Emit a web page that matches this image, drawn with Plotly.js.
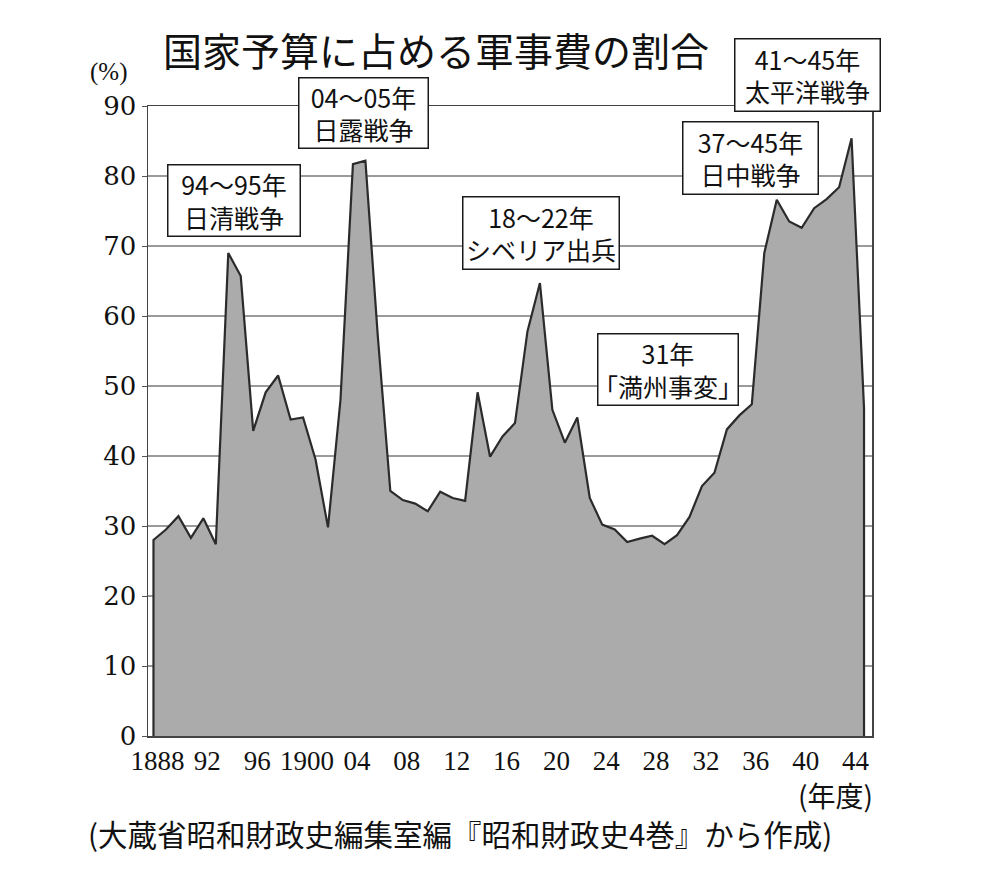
<!DOCTYPE html>
<html>
<head>
<meta charset="utf-8">
<script src="https://cdn.plot.ly/plotly-3.0.1.min.js"></script>
<style>
html,body{margin:0;padding:0;background:#ffffff;}
#chart{width:999px;height:873px;}
</style>
</head>
<body>
<div id="chart"></div>
<script>
// ---- data ----
const years = [1888,1889,1890,1891,1892,1893,1894,1895,1896,1897,1898,1899,
  1900,1901,1902,1903,1904,1905,1906,1907,1908,1909,1910,1911,1912,1913,1914,
  1915,1916,1917,1918,1919,1920,1921,1922,1923,1924,1925,1926,1927,1928,1929,
  1930,1931,1932,1933,1934,1935,1936,1937,1938,1939,1940,1941,1942,1943,1944,1945];
const militaryShare = [28.0,29.5,31.4,28.3,31.1,27.4,69.0,65.7,43.6,49.1,51.5,45.2,
  45.5,39.5,29.8,48.0,81.7,82.2,57.0,35.0,33.7,33.2,32.1,34.9,34.0,33.6,49.1,
  39.9,42.8,44.7,57.8,64.7,46.6,41.9,45.5,34.0,30.2,29.5,27.7,28.2,28.6,27.4,
  28.7,31.3,35.7,37.6,43.8,45.8,47.4,69.0,76.6,73.5,72.6,75.4,76.7,78.4,85.4,46.9];
const tickYears = [1888,1892,1896,1900,1904,1908,1912,1916,1920,1924,1928,1932,1936,1940,1944];
const tickLabels = ["1888","92","96","1900","04","08","12","16","20","24","28","32","36","40","44"];
const yTicks = [0,10,20,30,40,50,60,70,80,90];

const titleText = "国家予算に占める軍事費の割合";
const eventLabels = [
  "94～95年<br>日清戦争",
  "04～05年<br>日露戦争",
  "18～22年<br>シベリア出兵",
  "31年<br>「満州事変」",
  "37～45年<br>日中戦争",
  "41～45年<br>太平洋戦争"
];
const unitLabel = "(%)";
const xUnitLabel = "(年度)";
const sourceText = "(大蔵省昭和財政史編集室編『昭和財政史4巻』から作成)";

// ---- layout helpers (pixels -> paper) ----
const W = 999, H = 873;
const M = {l:148, r:127, t:106, b:137};
const PW = W - M.l - M.r, PH = H - M.t - M.b;
const px = x => (x - M.l) / PW;
const py = y => (H - M.b - y) / PH;

// closed outline polygon built from the data
const polyX = [years[0]].concat(years, [years[years.length-1]]);
const polyY = [0].concat(militaryShare, [0]);

const trace = {
  type: 'scatter',
  mode: 'lines',
  x: polyX,
  y: polyY,
  fill: 'toself',
  fillcolor: '#ababab',
  line: {color: '#2b2b2b', width: 2.2, shape: 'linear'},
  hoverinfo: 'x+y',
  showlegend: false
};

const jp = '"Noto Sans CJK JP", "Noto Sans CJK SC", sans-serif';

// boxes: [centerX, centerY, width, height] in pixels
const boxes = [
  [234, 200, 134, 73],
  [363, 113, 131, 72],
  [541, 233, 158, 74],
  [668, 369, 142, 73],
  [750, 158, 137, 74],
  [807, 75, 147, 74]
];

const annotations = eventLabels.map((t, i) => ({
  text: t,
  xref: 'paper', yref: 'paper',
  x: px(boxes[i][0]), y: py(boxes[i][1]),
  xanchor: 'center', yanchor: 'middle',
  showarrow: false,
  width: boxes[i][2] - 5, height: boxes[i][3] - 5,
  bgcolor: '#ffffff',
  bordercolor: '#1a1a1a', borderwidth: 1.5, borderpad: 1,
  font: {family: jp, size: 25, color: '#111111'},
  align: 'center', valign: 'middle'
}));

annotations.push({
  text: unitLabel, xref: 'paper', yref: 'paper',
  x: px(108), y: py(72), xanchor: 'center', yanchor: 'middle',
  showarrow: false, font: {family: '"Liberation Serif", serif', size: 25, color: '#111'}
});
annotations.push({
  text: xUnitLabel, xref: 'paper', yref: 'paper',
  x: px(835), y: py(795), xanchor: 'center', yanchor: 'middle',
  showarrow: false, font: {family: jp, size: 28, color: '#111'}
});
annotations.push({
  text: sourceText, xref: 'paper', yref: 'paper',
  x: px(86), y: py(833), xanchor: 'left', yanchor: 'middle',
  showarrow: false, font: {family: jp, size: 29.5, color: '#111'}
});

const layout = {
  width: W, height: H,
  margin: M,
  paper_bgcolor: '#ffffff',
  plot_bgcolor: '#ffffff',
  showlegend: false,
  title: {
    text: titleText,
    font: {family: jp, size: 39, color: '#111111'},
    xref: 'container', yref: 'container',
    x: 436 / W, y: 1 - 52 / H,
    xanchor: 'center', yanchor: 'middle'
  },
  xaxis: {
    range: [1887.56, 1945.64],
    tickmode: 'array',
    tickvals: tickYears,
    ticktext: tickLabels,
    ticks: '',
    showgrid: false,
    zeroline: false,
    showline: true, mirror: true,
    linecolor: '#444444', linewidth: 1.5,
    ticklabelshift: 4,
    tickfont: {family: '"Liberation Serif", serif', size: 27, color: '#111'},
    fixedrange: true
  },
  yaxis: {
    range: [0, 90],
    tickmode: 'array',
    tickvals: yTicks,
    ticks: 'outside', ticklen: 5, tickcolor: '#555555', tickwidth: 1,
    showgrid: true, gridcolor: '#9a9a9a', gridwidth: 1.5,
    zeroline: false,
    showline: true, mirror: true,
    linecolor: '#444444', linewidth: 1.5,
    tickfont: {family: '"DejaVu Serif", serif', size: 26, color: '#111'},
    fixedrange: true
  },
  annotations: annotations
};

Plotly.newPlot('chart', [trace], layout, {displayModeBar: false, staticPlot: true});
</script>
</body>
</html>
